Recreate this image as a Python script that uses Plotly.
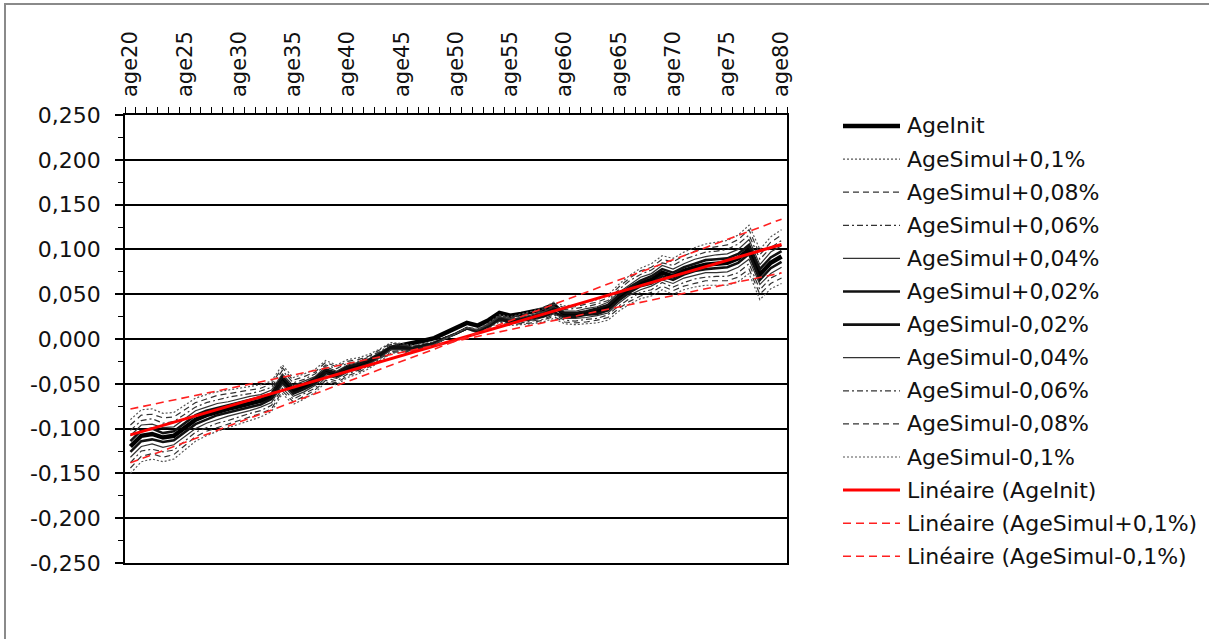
import numpy as np
import plotly.graph_objects as go

# ---------------- data ----------------
categories = ["age%d" % a for a in range(20, 81)]
tick_labels_x = [c if i % 5 == 0 else "" for i, c in enumerate(categories)]

y_tick_values = [0.25, 0.2, 0.15, 0.1, 0.05, 0.0, -0.05, -0.1, -0.15, -0.2, -0.25]
y_tick_labels = ["0,250", "0,200", "0,150", "0,100", "0,050", "0,000",
                 "-0,050", "-0,100", "-0,150", "-0,200", "-0,250"]

age_init = [-0.120, -0.108, -0.106, -0.110, -0.108, -0.099, -0.090, -0.085, -0.081, -0.078,
            -0.075, -0.072, -0.069, -0.064, -0.045, -0.058, -0.053, -0.047, -0.036, -0.040,
            -0.033, -0.030, -0.025, -0.018, -0.010, -0.007, -0.005, -0.002, 0.001, 0.007,
            0.012, 0.018, 0.015, 0.021, 0.029, 0.026, 0.028, 0.030, 0.033, 0.038,
            0.027, 0.027, 0.029, 0.031, 0.035, 0.046, 0.055, 0.062, 0.066, 0.074,
            0.070, 0.076, 0.080, 0.083, 0.084, 0.085, 0.090, 0.100, 0.072, 0.085, 0.092]

simul_p010 = [-0.090, -0.079, -0.078, -0.083, -0.082, -0.074, -0.066, -0.062, -0.059, -0.057,
              -0.055, -0.053, -0.051, -0.047, -0.029, -0.043, -0.039, -0.034, -0.024, -0.029,
              -0.023, -0.021, -0.017, -0.011, -0.004, -0.005, -0.007, -0.005, -0.003, 0.002,
              0.006, 0.011, 0.007, 0.012, 0.019, 0.015, 0.016, 0.017, 0.019, 0.023,
              0.017, 0.016, 0.017, 0.018, 0.021, 0.031, 0.039, 0.045, 0.048, 0.055,
              0.050, 0.055, 0.058, 0.060, 0.060, 0.060, 0.064, 0.073, 0.044, 0.056, 0.062]

simul_p008 = [-0.096, -0.085, -0.084, -0.088, -0.087, -0.079, -0.071, -0.067, -0.063, -0.061,
              -0.059, -0.057, -0.055, -0.050, -0.032, -0.046, -0.042, -0.037, -0.026, -0.031,
              -0.025, -0.023, -0.019, -0.012, -0.005, -0.006, -0.008, -0.006, -0.003, 0.002,
              0.006, 0.011, 0.007, 0.013, 0.020, 0.016, 0.017, 0.018, 0.021, 0.025,
              0.019, 0.018, 0.019, 0.021, 0.024, 0.034, 0.042, 0.048, 0.052, 0.059,
              0.054, 0.059, 0.062, 0.065, 0.065, 0.065, 0.069, 0.078, 0.050, 0.062, 0.068]

simul_p006 = [-0.102, -0.091, -0.089, -0.094, -0.092, -0.084, -0.076, -0.071, -0.068, -0.065,
              -0.063, -0.061, -0.058, -0.054, -0.035, -0.049, -0.045, -0.039, -0.029, -0.033,
              -0.027, -0.025, -0.020, -0.014, -0.006, -0.007, -0.009, -0.006, -0.004, 0.002,
              0.006, 0.011, 0.008, 0.013, 0.021, 0.017, 0.018, 0.020, 0.022, 0.027,
              0.021, 0.020, 0.022, 0.023, 0.027, 0.037, 0.045, 0.052, 0.055, 0.063,
              0.058, 0.063, 0.067, 0.069, 0.070, 0.070, 0.074, 0.084, 0.055, 0.068, 0.074]

simul_p004 = [-0.108, -0.096, -0.095, -0.099, -0.098, -0.089, -0.080, -0.076, -0.072, -0.070,
              -0.067, -0.064, -0.062, -0.057, -0.039, -0.052, -0.047, -0.042, -0.031, -0.036,
              -0.029, -0.026, -0.022, -0.015, -0.008, -0.008, -0.009, -0.007, -0.004, 0.001,
              0.006, 0.012, 0.008, 0.014, 0.021, 0.018, 0.020, 0.021, 0.024, 0.028,
              0.023, 0.023, 0.024, 0.026, 0.029, 0.040, 0.049, 0.055, 0.059, 0.066,
              0.062, 0.068, 0.071, 0.074, 0.074, 0.075, 0.080, 0.089, 0.061, 0.073, 0.080]

simul_p002 = [-0.114, -0.102, -0.100, -0.105, -0.103, -0.094, -0.085, -0.080, -0.077, -0.074,
              -0.071, -0.068, -0.065, -0.061, -0.042, -0.055, -0.050, -0.044, -0.034, -0.038,
              -0.031, -0.028, -0.023, -0.017, -0.009, -0.009, -0.010, -0.007, -0.005, 0.001,
              0.006, 0.012, 0.009, 0.014, 0.022, 0.019, 0.021, 0.023, 0.025, 0.030,
              0.025, 0.025, 0.027, 0.028, 0.032, 0.043, 0.052, 0.059, 0.062, 0.070,
              0.066, 0.072, 0.076, 0.078, 0.079, 0.080, 0.085, 0.095, 0.066, 0.079, 0.086]

simul_m002 = [-0.126, -0.114, -0.112, -0.115, -0.113, -0.104, -0.095, -0.090, -0.085, -0.082,
              -0.079, -0.076, -0.073, -0.067, -0.048, -0.061, -0.056, -0.050, -0.038, -0.042,
              -0.035, -0.032, -0.027, -0.019, -0.011, -0.011, -0.012, -0.009, -0.005, 0.001,
              0.006, 0.012, 0.009, 0.016, 0.024, 0.021, 0.023, 0.025, 0.029, 0.034,
              0.029, 0.029, 0.031, 0.034, 0.038, 0.049, 0.058, 0.065, 0.070, 0.078,
              0.074, 0.080, 0.084, 0.088, 0.089, 0.090, 0.095, 0.105, 0.078, 0.091, 0.098]

simul_m004 = [-0.132, -0.120, -0.117, -0.121, -0.118, -0.109, -0.100, -0.094, -0.090, -0.086,
              -0.083, -0.080, -0.076, -0.071, -0.051, -0.064, -0.059, -0.052, -0.041, -0.044,
              -0.037, -0.034, -0.028, -0.021, -0.012, -0.012, -0.013, -0.009, -0.006, 0.001,
              0.006, 0.012, 0.010, 0.016, 0.025, 0.022, 0.024, 0.027, 0.030, 0.036,
              0.031, 0.031, 0.034, 0.036, 0.041, 0.052, 0.061, 0.069, 0.073, 0.082,
              0.078, 0.084, 0.089, 0.092, 0.094, 0.095, 0.100, 0.111, 0.083, 0.097, 0.104]

simul_m006 = [-0.138, -0.125, -0.123, -0.126, -0.124, -0.114, -0.104, -0.099, -0.094, -0.091,
              -0.087, -0.083, -0.080, -0.074, -0.055, -0.067, -0.061, -0.055, -0.043, -0.047,
              -0.039, -0.035, -0.030, -0.022, -0.014, -0.013, -0.013, -0.010, -0.006, 0.000,
              0.006, 0.013, 0.010, 0.017, 0.025, 0.023, 0.026, 0.028, 0.032, 0.037,
              0.033, 0.034, 0.036, 0.039, 0.043, 0.055, 0.065, 0.072, 0.077, 0.085,
              0.082, 0.089, 0.093, 0.097, 0.098, 0.100, 0.106, 0.116, 0.089, 0.102, 0.110]

simul_m008 = [-0.144, -0.131, -0.128, -0.132, -0.129, -0.119, -0.109, -0.103, -0.099, -0.095,
              -0.091, -0.087, -0.083, -0.078, -0.058, -0.070, -0.064, -0.057, -0.046, -0.049,
              -0.041, -0.037, -0.031, -0.024, -0.015, -0.014, -0.014, -0.010, -0.007, 0.000,
              0.006, 0.013, 0.011, 0.017, 0.026, 0.024, 0.027, 0.030, 0.033, 0.039,
              0.035, 0.036, 0.039, 0.041, 0.046, 0.058, 0.068, 0.076, 0.080, 0.089,
              0.086, 0.093, 0.098, 0.101, 0.103, 0.105, 0.111, 0.122, 0.094, 0.108, 0.116]

simul_m010 = [-0.150, -0.137, -0.134, -0.137, -0.134, -0.124, -0.114, -0.108, -0.103, -0.099,
              -0.095, -0.091, -0.087, -0.081, -0.061, -0.073, -0.067, -0.060, -0.048, -0.051,
              -0.043, -0.039, -0.033, -0.025, -0.016, -0.015, -0.015, -0.011, -0.007, 0.000,
              0.006, 0.013, 0.011, 0.018, 0.027, 0.025, 0.028, 0.031, 0.035, 0.041,
              0.037, 0.038, 0.041, 0.044, 0.049, 0.061, 0.071, 0.079, 0.084, 0.093,
              0.090, 0.097, 0.102, 0.106, 0.108, 0.110, 0.116, 0.127, 0.100, 0.114, 0.122]

series_names = ["AgeInit", "AgeSimul+0,1%", "AgeSimul+0,08%", "AgeSimul+0,06%",
                "AgeSimul+0,04%", "AgeSimul+0,02%", "AgeSimul-0,02%", "AgeSimul-0,04%",
                "AgeSimul-0,06%", "AgeSimul-0,08%", "AgeSimul-0,1%"]
series_values = [age_init, simul_p010, simul_p008, simul_p006, simul_p004, simul_p002,
                 simul_m002, simul_m004, simul_m006, simul_m008, simul_m010]
trend_names = ["Linéaire (AgeInit)", "Linéaire (AgeSimul+0,1%)", "Linéaire (AgeSimul-0,1%)"]
trend_sources = [age_init, simul_p010, simul_m010]

# ---------------- styles ----------------
FONT = "DejaVu Sans"
series_styles = [
    dict(color="#000000", width=4.5, dash="solid"),
    dict(color="#555555", width=1.2, dash="2px,2px"),
    dict(color="#333333", width=1.2, dash="6px,4px"),
    dict(color="#333333", width=1.2, dash="6px,3px,2px,3px"),
    dict(color="#333333", width=1.2, dash="solid"),
    dict(color="#111111", width=2.6, dash="solid"),
    dict(color="#111111", width=2.6, dash="solid"),
    dict(color="#333333", width=1.2, dash="solid"),
    dict(color="#333333", width=1.2, dash="6px,3px,2px,3px"),
    dict(color="#333333", width=1.2, dash="6px,4px"),
    dict(color="#555555", width=1.2, dash="2px,2px"),
]
trend_styles = [
    dict(color="#ff0000", width=3, dash="solid"),
    dict(color="#ff2020", width=1.6, dash="8px,5px"),
    dict(color="#ff2020", width=1.6, dash="8px,5px"),
]

fig = go.Figure()
for name, vals, st in zip(series_names, series_values, series_styles):
    fig.add_trace(go.Scatter(x=categories, y=vals, mode="lines", name=name,
                             line=st, showlegend=False))

xi = np.arange(len(categories))
for name, src, st in zip(trend_names, trend_sources, trend_styles):
    slope, icpt = np.polyfit(xi, np.array(src), 1)
    fig.add_trace(go.Scatter(x=categories, y=slope * xi + icpt, mode="lines", name=name,
                             line=st, showlegend=False))

# plot area in pixels
L, R, T, B = 125, 787, 115, 563
W, H = 1209, 639


def px_x(px):
    return (px - L) / (R - L)


def px_y(py):
    return (B - py) / (B - T)


shapes = []
annotations = []
# outer chart border
shapes.append(dict(type="rect", xref="paper", yref="paper",
                   x0=px_x(5), x1=px_x(1230), y0=px_y(660), y1=px_y(4),
                   line=dict(color="#8a8a8a", width=2), fillcolor="rgba(0,0,0,0)"))

# manual legend
legend_names = series_names + trend_names
legend_styles = series_styles + trend_styles
for i, (name, st) in enumerate(zip(legend_names, legend_styles)):
    yc = 126 + i * 33.1
    shapes.append(dict(type="line", xref="paper", yref="paper",
                       x0=px_x(843), x1=px_x(900), y0=px_y(yc), y1=px_y(yc),
                       line=dict(color=st["color"], width=st["width"], dash=st["dash"])))
    annotations.append(dict(xref="paper", yref="paper", x=px_x(905), y=px_y(yc),
                            xanchor="left", yanchor="middle", text=name, showarrow=False,
                            font=dict(family=FONT, size=22, color="#111111")))

fig.update_layout(
    width=W, height=H,
    margin=dict(l=L, r=W - R, t=T, b=H - B, pad=0),
    paper_bgcolor="white", plot_bgcolor="white",
    showlegend=False,
    shapes=shapes, annotations=annotations,
    font=dict(family=FONT, size=22, color="#111111"),
)
fig.update_xaxes(
    type="category", range=[-0.5, len(categories) - 0.5], side="top",
    tickmode="array", tickvals=categories, ticktext=tick_labels_x,
    tickangle=-90, tickson="boundaries", ticks="outside", ticklen=6,
    tickwidth=1.2, tickcolor="black", ticklabelstandoff=12,
    showgrid=False, zeroline=False,
    showline=True, linecolor="black", linewidth=1.5, mirror=True,
    tickfont=dict(family=FONT, size=21, color="#111111"),
)
fig.update_yaxes(
    range=[-0.25, 0.25], tickmode="array", tickvals=y_tick_values, ticktext=y_tick_labels,
    ticks="outside", ticklen=8, tickwidth=1.5, tickcolor="black", ticklabelstandoff=10,
    showgrid=True, gridcolor="black", gridwidth=1.5, zeroline=False,
    showline=True, linecolor="black", linewidth=1.5, mirror=True,
    minor=dict(ticks="outside", dtick=0.025, tick0=0, ticklen=5, tickcolor="black",
               tickwidth=1, showgrid=False),
    tickfont=dict(family=FONT, size=22, color="#111111"),
)

fig.write_html(
    "out.html",
    config={"displayModeBar": False},
    post_script="document.body.style.margin='0';document.body.style.overflow='hidden';",
)
